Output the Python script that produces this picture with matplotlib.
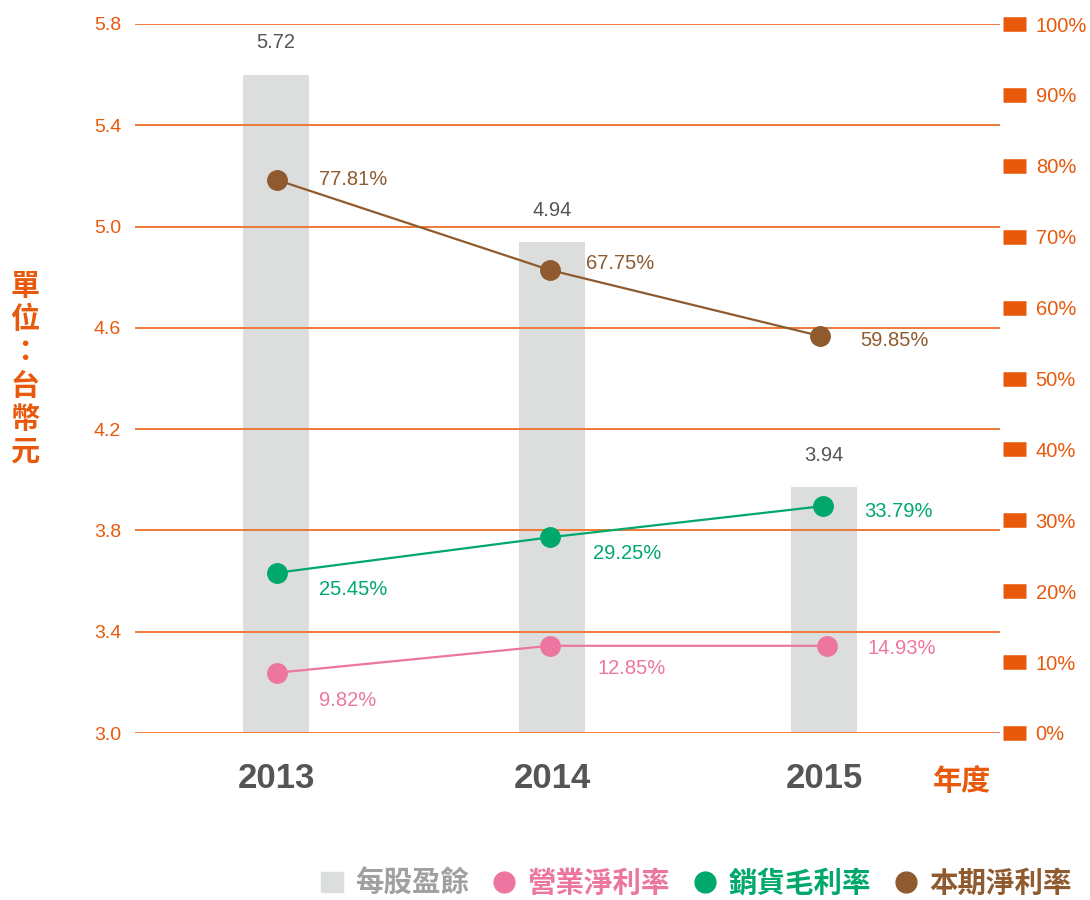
import matplotlib
matplotlib.use("Agg")
import matplotlib.pyplot as plt
from matplotlib.patches import Rectangle
from matplotlib.lines import Line2D

plt.rcParams['font.family'] = ['Liberation Sans', 'Noto Sans CJK TC', 'DejaVu Sans']

years = ['2013', '2014', '2015']
eps_labels = ['5.72', '4.94', '3.94']
eps_bar = [5.60, 4.94, 3.97]          # bar heights as drawn
op_margin = [8.5, 12.3, 12.3]          # 營業淨利率, marker heights (%)
op_labels = ['9.82%', '12.85%', '14.93%']
gross_margin = [22.6, 27.6, 32.0]      # 銷貨毛利率
gross_labels = ['25.45%', '29.25%', '33.79%']
net_margin = [78.0, 65.3, 56.0]        # 本期淨利率
net_labels = ['77.81%', '67.75%', '59.85%']

ORANGE = '#E8590C'
GRID = '#EE7A38'
GRAY_BAR = '#DCDDDD'
PINK = '#EC76A0'
GREEN = '#00A86B'
BROWN = '#8E5A2E'
DARK = '#555555'

fig = plt.figure(figsize=(10.9, 9.0), dpi=100)
ax = fig.add_axes([135/1090, (900-733)/900, 865/1090, 709/900])
x = [0, 1.006, 1.998]

ax.bar(x, eps_bar, width=0.24, color=GRAY_BAR, zorder=1)
ax.set_ylim(3.0, 5.8)
ax.set_xlim(-0.515, 2.64)
ax.set_yticks([3.0, 3.4, 3.8, 4.2, 4.6, 5.0, 5.4, 5.8])
ax.set_yticklabels(['3.0', '3.4', '3.8', '4.2', '4.6', '5.0', '5.4', '5.8'])
for v in ax.get_yticks():
    ax.axhline(v, color=GRID, lw=1.4, zorder=2)
for s in ax.spines.values():
    s.set_visible(False)
ax.tick_params(axis='y', length=0, pad=10, labelsize=14, labelcolor=ORANGE)
ax.set_xticks(x)
ax.set_xticklabels(years, fontsize=25, fontweight='bold', color=DARK)
ax.tick_params(axis='x', length=0, pad=21)

for xi, h, lab in zip(x, eps_bar, eps_labels):
    ax.annotate(lab, (xi, h), xytext=(0, 16), textcoords='offset points',
                ha='center', va='bottom', fontsize=14.5, color=DARK)

ax2 = ax.twinx()
ax2.set_ylim(0, 100)
ax2.set_yticks(range(0, 101, 10))
ax2.set_yticklabels([f'{v}%' for v in range(0, 101, 10)])
for s in ax2.spines.values():
    s.set_visible(False)
ax2.spines['right'].set_position(('outward', 2.2))
ax2.tick_params(axis='y', direction='out', length=16.5, width=10.5, color=ORANGE,
                pad=7, labelsize=14.5, labelcolor=ORANGE)

ax2.plot([0.003, 0.998, 1.983], net_margin, color=BROWN, lw=1.6, marker='o', ms=14, zorder=3)
ax2.plot([0.003, 0.998, 1.994], gross_margin, color=GREEN, lw=1.6, marker='o', ms=14, zorder=3)
ax2.plot([0.003, 0.998, 2.009], op_margin, color=PINK, lw=1.6, marker='o', ms=14, zorder=3)

lx = [0.003, 0.998, 1.994]
net_off = [(30, 0), (26, 5), (27, -3)]
gross_off = [(30, -12), (31, -12), (30, -4)]
op_off = [(30, -20), (34, -16), (32, -2)]
for vals, labs, offs, col in [(net_margin, net_labels, net_off, BROWN),
                              (gross_margin, gross_labels, gross_off, GREEN),
                              (op_margin, op_labels, op_off, PINK)]:
    for xi, v, lab, off in zip(lx, vals, labs, offs):
        ax2.annotate(lab, (xi, v), xytext=off, textcoords='offset points',
                     ha='left', va='center', fontsize=14.5, color=col)

fig.text(25/1090, 1 - 369/900, '\n'.join('單位：台幣元'), ha='center', va='center',
         fontsize=21, color=ORANGE, family=['Noto Sans CJK TC'], linespacing=1.13,
         fontweight='bold')
fig.text(962/1090, 1 - 781/900, '年度', ha='center', va='center', fontsize=21,
         color=ORANGE, family=['Noto Sans CJK TC'], fontweight='bold')

handles = [Rectangle((0, 0), 1, 1, color=GRAY_BAR),
           Line2D([], [], ls='none', marker='o', ms=15, color=PINK),
           Line2D([], [], ls='none', marker='o', ms=15, color=GREEN),
           Line2D([], [], ls='none', marker='o', ms=15, color=BROWN)]
labels = ['每股盈餘', '營業淨利率', '銷貨毛利率', '本期淨利率']
leg = fig.legend(handles, labels, loc='center left', bbox_to_anchor=(310/1090, 1 - 884/900),
                 ncol=4, frameon=False, handlelength=0.75, handleheight=0.75,
                 handletextpad=0.45, columnspacing=0.85, borderaxespad=0,
                 prop={'family': ['Noto Sans CJK TC'], 'size': 20.5, 'weight': 'bold'},
                 labelcolor=['#A0A0A0', PINK, GREEN, BROWN])

fig.savefig('out.png', dpi=100)
